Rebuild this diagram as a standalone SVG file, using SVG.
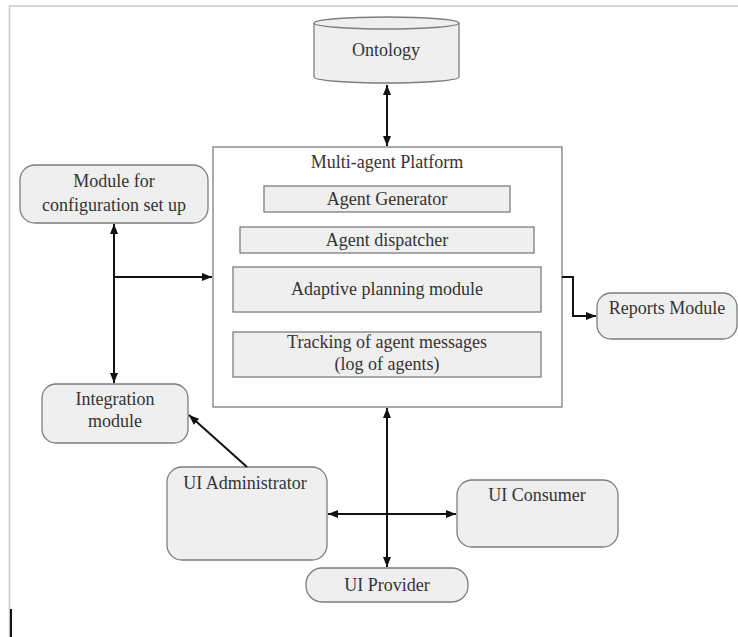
<svg xmlns="http://www.w3.org/2000/svg" width="738" height="637" viewBox="0 0 738 637">
  <style>
    .box { fill: #efefef; stroke: #7d7d7d; stroke-width: 1.3; }
    .frame { fill: #ffffff; stroke: #7d7d7d; stroke-width: 1.3; }
    text { font-family: 'Liberation Serif', 'DejaVu Serif', serif; font-size: 18px; fill: #333333; text-anchor: middle; }
    .link { fill: none; stroke: #111111; stroke-width: 2; }
    .edge { fill: none; stroke: #c8c8c8; stroke-width: 1.5; }
  </style>
  <defs>
    <marker id="arrow" viewBox="0 0 10 10" refX="10" refY="5" markerWidth="11" markerHeight="10" markerUnits="userSpaceOnUse" orient="auto-start-reverse">
      <path d="M0,1 L10,5 L0,9 z" fill="#111111"/>
    </marker>
  </defs>

  <rect x="0" y="0" width="738" height="637" fill="#ffffff"/>

  <!-- page border -->
  <path class="edge" d="M9.5,637 L9.5,6 L738,6"/>
  <rect x="10" y="609" width="2" height="28" fill="#111111"/>

  <!-- Ontology store -->
  <g id="ontology">
    <path class="box" d="M314,23 A72.5,6 0 0 1 459,23 L459,77 A72.5,6 0 0 1 314,77 Z"/>
    <path class="box" d="M314,23 A72.5,6 0 0 0 459,23" fill="none"/>
    <text x="386" y="56" font-family="Liberation Serif, serif">Ontology</text>
  </g>

  <!-- Multi-agent platform container -->
  <g id="platform">
    <rect class="frame" x="213" y="147" width="349" height="260"/>
    <text x="387" y="168">Multi-agent Platform</text>
  </g>
  <g id="agent-generator">
    <rect class="box" x="264" y="186" width="246" height="26"/>
    <text x="387" y="205">Agent Generator</text>
  </g>
  <g id="agent-dispatcher">
    <rect class="box" x="240" y="227" width="294" height="26"/>
    <text x="387" y="246">Agent dispatcher</text>
  </g>
  <g id="adaptive-planning">
    <rect class="box" x="233" y="267" width="308" height="45"/>
    <text x="387" y="295">Adaptive planning module</text>
  </g>
  <g id="tracking">
    <rect class="box" x="233" y="332" width="308" height="45"/>
    <text x="387" y="348">Tracking of agent messages</text>
    <text x="387" y="370">(log of agents)</text>
  </g>

  <!-- Surrounding modules -->
  <g id="config-module">
    <rect class="box" x="20" y="165" width="188" height="58" rx="15"/>
    <text x="114" y="187">Module for</text>
    <text x="114" y="211">configuration set up</text>
  </g>
  <g id="integration-module">
    <rect class="box" x="42" y="384" width="146" height="59" rx="14"/>
    <text x="115" y="405">Integration</text>
    <text x="115" y="427">module</text>
  </g>
  <g id="reports-module">
    <rect class="box" x="597" y="293" width="140" height="46" rx="14"/>
    <text x="667" y="314">Reports Module</text>
  </g>
  <g id="ui-administrator">
    <rect class="box" x="167" y="467" width="160" height="93" rx="15"/>
    <text x="245" y="489">UI Administrator</text>
  </g>
  <g id="ui-consumer">
    <rect class="box" x="457" y="480" width="161" height="67" rx="15"/>
    <text x="537" y="501">UI Consumer</text>
  </g>
  <g id="ui-provider">
    <rect class="box" x="306" y="568" width="162" height="34" rx="16"/>
    <text x="387" y="591">UI Provider</text>
  </g>

  <!-- Connectors -->
  <g id="connectors">
    <path class="link" d="M387,85 L387,146" marker-start="url(#arrow)" marker-end="url(#arrow)"/>
    <path class="link" d="M114,224 L114,383" marker-start="url(#arrow)" marker-end="url(#arrow)"/>
    <path class="link" d="M114,277 L212,277" marker-end="url(#arrow)"/>
    <path class="link" d="M562,277 L573,277 L573,316 L596,316" marker-end="url(#arrow)"/>
    <path class="link" d="M247,467 L189,415" marker-end="url(#arrow)"/>
    <path class="link" d="M387,408 L387,567" marker-start="url(#arrow)" marker-end="url(#arrow)"/>
    <path class="link" d="M328,514 L456,514" marker-start="url(#arrow)" marker-end="url(#arrow)"/>
  </g>
</svg>
